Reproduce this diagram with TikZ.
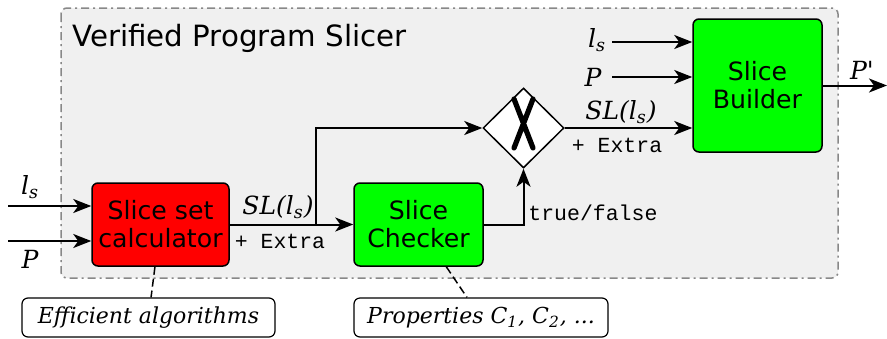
\documentclass[tikz,border=0pt]{standalone}
\usepackage{fontspec}
\setmainfont{DejaVu Sans}
\newfontfamily\serifit{DejaVu Serif Italic}
\setmonofont{Liberation Mono}
\usetikzlibrary{arrows.meta,shapes.geometric,calc}
\definecolor{framefill}{HTML}{F0F0F0}
\definecolor{framedraw}{HTML}{888888}
\definecolor{boxred}{HTML}{FF0000}
\definecolor{boxgreen}{HTML}{00FF00}
\tikzset{
  blk/.style={draw=black, line width=0.75pt, rounded corners=3pt, align=center, inner sep=0pt,
    font=\fontsize{12.6}{14}\selectfont},
  note/.style={draw=black, line width=0.6pt, fill=white, rounded corners=3pt, inner sep=0pt,
    font=\serifit\fontsize{11}{13}\selectfont},
  arr/.style={-{Stealth[length=9pt,width=7pt,inset=2.5pt]}, line width=1pt},
  lab/.style={font=\serifit\fontsize{12.5}{15}\selectfont, inner sep=0pt},
  mono/.style={font=\ttfamily\fontsize{10.75}{12}\selectfont, inner sep=0pt},
  link/.style={dash pattern=on 4pt off 2pt, line width=0.75pt},
}
\begin{document}
\begin{tikzpicture}[x=0.5pt,y=-0.5pt]
\useasboundingbox (0,0) rectangle (887,338);
% frame
\draw[fill=framefill, draw=framedraw, dash pattern=on 4pt off 2pt on 1pt off 2pt, line width=0.75pt, rounded corners=3pt]
  (61,8) rectangle (838,278);
\node[anchor=base west, inner sep=0pt, font=\fontsize{14.65}{17}\selectfont] (title) at (72,46) {Verified Program Slicer};
% blocks
\node[blk, fill=boxred, minimum width=68.5pt, minimum height=41.5pt] (calc) at (160.5,224.5) {Slice set\\calculator};
\node[blk, fill=boxgreen, minimum width=64.5pt, minimum height=41.5pt] (check) at (418.5,224.5) {Slice\\Checker};
\node[blk, fill=boxgreen, minimum width=64.5pt, minimum height=66.5pt] (build) at (757.5,85.5) {Slice\\Builder};
\node[draw=black, line width=0.75pt, fill=white, shape=diamond, inner sep=0pt, minimum width=40.5pt, minimum height=40pt] (dia) at (523.5,128) {};
\draw[line width=2.6pt, line cap=round] (514,99) -- (533,148) (533,99) -- (514,148);
% notes
\node[note, minimum width=126.5pt, minimum height=19.5pt] (eff) at (148.5,317.5) {Efficient algorithms};
\node[note, minimum width=127pt, minimum height=19.5pt] (prop) at (481,317.5) {Properties C\textsubscript{1}, C\textsubscript{2}, ...};
% inputs
\coordinate (lsin) at (8,206);
\coordinate (pin) at (8,241);
\draw[arr] (lsin) -- (lsin -| calc.west);
\draw[arr] (pin) -- (pin -| calc.west);
\node[lab] (lslab) at (30,187) {l\textsubscript{s}};
\node[lab] (plab) at (30,259) {P};
% calc -> checker
\draw[arr] (calc.east) -- (check.west);
\coordinate (br) at (316,224.5);
\draw[arr] (br) |- (dia.west);
\node[lab] (sl1) at (278,207) {SL(l\textsubscript{s})};
\node[mono] (ex1) at (280,241) {+ Extra};
% checker -> diamond
\draw[arr] (check.east) -| (dia.south);
\node[mono, anchor=west] (tf) at (528,213) {true/false};
% diamond -> builder
\draw[arr] (dia.east) -- (dia.east -| build.west);
\node[lab] (sl2) at (621,112) {SL(l\textsubscript{s})};
\node[mono] (ex2) at (617,145) {+ Extra};
% builder inputs
\coordinate (lsb) at (612,42);
\coordinate (pb) at (612,77);
\draw[arr] (lsb) -- (lsb -| build.west);
\draw[arr] (pb) -- (pb -| build.west);
\node[lab] (lsblab) at (597,40) {l\textsubscript{s}};
\node[lab] (pblab) at (593,77) {P};
% output
\coordinate (pout) at (887,85.5);
\draw[arr] (build.east |- pout) -- (pout);
\node[lab] (poutlab) at (862,70) {P'};
% dashed links
\draw[link] ($(calc.south west)!0.46!(calc.south east)$) -- ($(eff.north west)!0.51!(eff.north east)$);
\draw[link] ($(check.south west)!0.713!(check.south east)$) -- ($(prop.north west)!0.445!(prop.north east)$);
\end{tikzpicture}
\end{document}
